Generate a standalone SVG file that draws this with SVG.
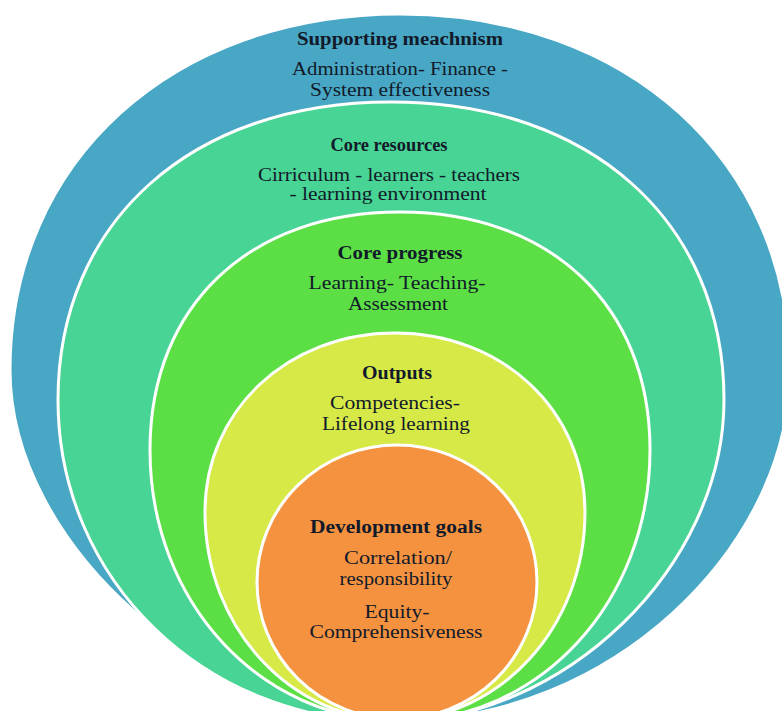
<svg xmlns="http://www.w3.org/2000/svg" width="782" height="711" viewBox="0 0 782 711">
<style>
.shape{stroke:#ffffff;stroke-width:3}
.t{font-family:"Liberation Serif","Times New Roman",serif;font-size:19px;fill:#121a2a;text-anchor:middle}
.h{font-weight:bold;font-size:18px}
</style>
<rect x="0" y="0" width="782" height="711" fill="#ffffff"/>
<g id="supporting">
<path class="shape" fill="#48A7C4" d="M400,14 C626,14 790,160 790,370 C790,552 605,720 405,720 C207.5,720 10,545 10,370 C10,160 174,14 400,14Z"/>
<text class="t h" x="400" y="45" textLength="206" lengthAdjust="spacingAndGlyphs">Supporting meachnism</text>
<text class="t" x="400" y="75" textLength="216" lengthAdjust="spacingAndGlyphs">Administration- Finance -</text>
<text class="t" x="400" y="96" textLength="180" lengthAdjust="spacingAndGlyphs">System effectiveness</text>
</g>
<g id="resources">
<path class="shape" fill="#47D494" d="M391,102 C591,102 724,222 724,400 C724,567 564,722 391,722 C204.5,722 58,580 58,400 C58,222 191,102 391,102Z"/>
<text class="t h" x="389" y="151" textLength="117" lengthAdjust="spacingAndGlyphs">Core resources</text>
<text class="t" x="389" y="181" textLength="262" lengthAdjust="spacingAndGlyphs">Cirriculum - learners - teachers</text>
<text class="t" x="388" y="200" textLength="197" lengthAdjust="spacingAndGlyphs">- learning environment</text>
</g>
<g id="progress">
<path class="shape" fill="#5BDF45" d="M400,212 C550,212 650,305 650,450 C650,602 540,721 400,721 C260,721 150,602 150,450 C150,305 250,212 400,212Z"/>
<text class="t h" x="400" y="259" textLength="125" lengthAdjust="spacingAndGlyphs">Core progress</text>
<text class="t" x="397" y="289" textLength="177" lengthAdjust="spacingAndGlyphs">Learning- Teaching-</text>
<text class="t" x="398" y="310" textLength="100" lengthAdjust="spacingAndGlyphs">Assessment</text>
</g>
<g id="outputs">
<path class="shape" fill="#D7E947" d="M395,333 C502,333 585,410 585,512 C585,628 499,720 395,720 C291,720 205,628 205,512 C205,410 288,333 395,333Z"/>
<text class="t h" x="397" y="379" textLength="70" lengthAdjust="spacingAndGlyphs">Outputs</text>
<text class="t" x="395" y="409" textLength="130" lengthAdjust="spacingAndGlyphs">Competencies-</text>
<text class="t" x="396" y="430" textLength="148" lengthAdjust="spacingAndGlyphs">Lifelong learning</text>
</g>
<g id="goals">
<ellipse class="shape" fill="#F4923F" cx="397" cy="582" rx="140" ry="137"/>
<text class="t h" x="396" y="533" textLength="172" lengthAdjust="spacingAndGlyphs">Development goals</text>
<text class="t" x="398" y="564" textLength="108" lengthAdjust="spacingAndGlyphs">Correlation/</text>
<text class="t" x="396" y="585" textLength="113" lengthAdjust="spacingAndGlyphs">responsibility</text>
<text class="t" x="397" y="618" textLength="65" lengthAdjust="spacingAndGlyphs">Equity-</text>
<text class="t" x="396" y="638" textLength="173" lengthAdjust="spacingAndGlyphs">Comprehensiveness</text>
</g>
</svg>
